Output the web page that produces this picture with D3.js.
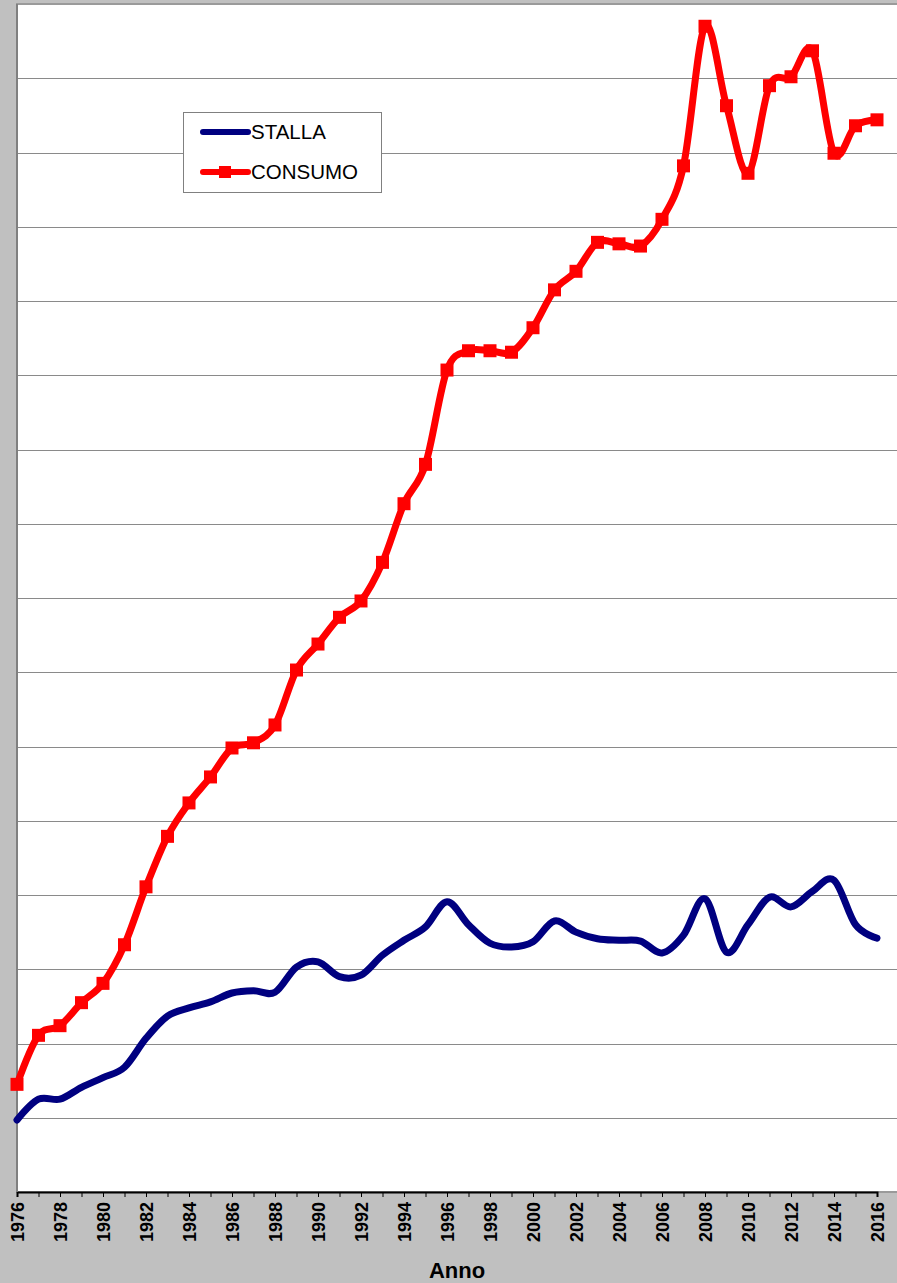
<html>
<head>
  <meta charset="utf-8">
  <script src="https://cdn.jsdelivr.net/npm/d3@7"></script>
  <style>
    body { margin: 0; background: #c0c0c0; }
    text { font-family: "Liberation Sans", Arial, sans-serif; }
  </style>
</head>
<body>
  <div id="chart"></div>
  <script>
    // years on the x axis
    var years = d3.range(1976, 2017);

    // series values (chart units, one grid line = 1)
    var stalla = [0.97, 1.25, 1.25, 1.41, 1.54, 1.68, 2.07, 2.37, 2.48, 2.56,
      2.68, 2.71, 2.69, 3.03, 3.10, 2.90, 2.92, 3.19, 3.39, 3.57,
      3.91, 3.60, 3.35, 3.30, 3.37, 3.65, 3.50, 3.41, 3.39, 3.38,
      3.22, 3.46, 3.95, 3.23, 3.60, 3.97, 3.84, 4.05, 4.20, 3.60, 3.42];
    var consumo = [1.45, 2.11, 2.24, 2.55, 2.81, 3.33, 4.11, 4.79, 5.24, 5.59,
      5.98, 6.05, 6.29, 7.03, 7.38, 7.74, 7.96, 8.48, 9.27, 9.80,
      11.07, 11.33, 11.33, 11.31, 11.64, 12.15, 12.40, 12.79, 12.77, 12.74,
      13.10, 13.82, 15.70, 14.63, 13.72, 14.90, 15.02, 15.37, 13.99, 14.36, 14.44];
    var seriesNames = ["STALLA", "CONSUMO"];
    var seriesColors = ["#000080", "#ff0000"];

    var W = 897, H = 1283;
    var svg = d3.select("#chart").append("svg")
      .attr("width", W).attr("height", H);

    svg.append("rect").attr("width", W).attr("height", H).attr("fill", "#c0c0c0");

    var plotLeft = 17, plotTop = 4, plotBottom = 1192;
    var x = d3.scaleLinear().domain([1976, 2016]).range([plotLeft, 877]);
    var y = d3.scaleLinear().domain([0, 16]).range([plotBottom, plotTop]);

    // plot area
    svg.append("rect")
      .attr("x", plotLeft).attr("y", plotTop)
      .attr("width", W - plotLeft + 5).attr("height", plotBottom - plotTop)
      .attr("fill", "#fff")
      .attr("stroke", "#9a9a9a").attr("stroke-width", 2);

    // horizontal grid
    svg.append("g")
      .selectAll("line")
      .data(d3.range(1, 16))
      .enter()
      .append("line")
      .attr("x1", plotLeft).attr("x2", W)
      .attr("y1", function (d) { return Math.round(y(d)) + 0.5; })
      .attr("y2", function (d) { return Math.round(y(d)) + 0.5; })
      .attr("stroke", "#8a8a8a").attr("stroke-width", 1);

    // x axis
    var xAxis = svg.append("g")
      .attr("transform", "translate(0," + plotBottom + ")")
      .call(d3.axisBottom(x)
        .tickValues(years)
        .tickSize(5)
        .tickFormat(function (d) { return d % 2 === 0 ? d : ""; }));
    xAxis.select(".domain").attr("stroke", "#000").attr("stroke-width", 2);
    xAxis.selectAll(".tick line").attr("stroke", "#000");
    xAxis.selectAll("text")
      .attr("font-size", 18)
      .attr("font-weight", "bold")
      .attr("font-family", "'Liberation Sans', Arial, sans-serif")
      .attr("fill", "#000")
      .attr("transform", "rotate(-90)")
      .attr("text-anchor", "end")
      .attr("x", -10).attr("y", 0).attr("dy", "0.36em");

    // left axis line
    svg.append("line")
      .attr("x1", plotLeft).attr("x2", plotLeft)
      .attr("y1", plotTop).attr("y2", plotBottom)
      .attr("stroke", "#808080").attr("stroke-width", 2);

    svg.append("text")
      .attr("x", 457).attr("y", 1278)
      .attr("text-anchor", "middle")
      .attr("font-size", 22).attr("font-weight", "bold")
      .text("Anno");

    var line = d3.line()
      .x(function (d, i) { return x(years[i]); })
      .y(function (d) { return y(d); })
      .curve(d3.curveCatmullRom.alpha(0));

    svg.append("path")
      .datum(stalla)
      .attr("d", line)
      .attr("fill", "none")
      .attr("stroke", seriesColors[0])
      .attr("stroke-width", 7)
      .attr("stroke-linejoin", "round")
      .attr("stroke-linecap", "round");

    svg.append("path")
      .datum(consumo)
      .attr("d", line)
      .attr("fill", "none")
      .attr("stroke", seriesColors[1])
      .attr("stroke-width", 7)
      .attr("stroke-linejoin", "round")
      .attr("stroke-linecap", "round");

    svg.selectAll(".mk")
      .data(consumo)
      .enter()
      .append("rect")
      .attr("class", "mk")
      .attr("x", function (d, i) { return x(years[i]) - 6.5; })
      .attr("y", function (d) { return y(d) - 6.5; })
      .attr("width", 13).attr("height", 13)
      .attr("fill", seriesColors[1]);

    // legend
    var lg = svg.append("g");
    lg.append("rect")
      .attr("x", 183.5).attr("y", 112.5)
      .attr("width", 198).attr("height", 80)
      .attr("fill", "#fff").attr("stroke", "#808080");
    seriesNames.forEach(function (name, i) {
      var ly = 132 + i * 40;
      lg.append("line")
        .attr("x1", 203).attr("x2", 248)
        .attr("y1", ly).attr("y2", ly)
        .attr("stroke", seriesColors[i]).attr("stroke-width", 6)
        .attr("stroke-linecap", "round");
      if (i === 1) {
        lg.append("rect")
          .attr("x", 219).attr("y", ly - 6)
          .attr("width", 12).attr("height", 12)
          .attr("fill", seriesColors[i]);
      }
      lg.append("text")
        .attr("x", 251).attr("y", ly)
        .attr("dy", "0.36em")
        .attr("font-size", 20.5)
        .text(name);
    });
  </script>
</body>
</html>
